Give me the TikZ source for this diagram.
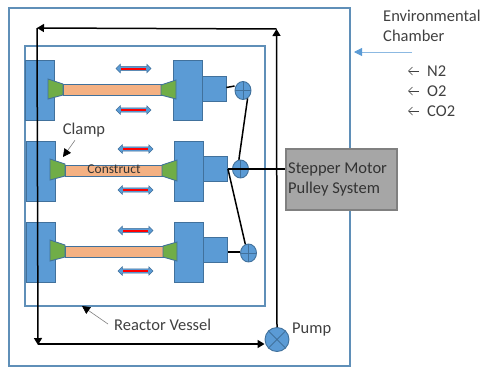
\documentclass[tikz,border=0pt]{standalone}
\usepackage{fontspec}
\setmainfont{Carlito}
\usetikzlibrary{arrows.meta,shapes.geometric,shapes.arrows}
\definecolor{partblue}{HTML}{5B9BD5}
\definecolor{partedge}{HTML}{41719C}
\definecolor{wallblue}{HTML}{5F8FB8}
\definecolor{constructfill}{HTML}{F4B183}
\definecolor{clampfill}{HTML}{70AD47}
\definecolor{labelgray}{HTML}{404040}
\tikzset{
  wall/.style={draw=wallblue,line width=1.2pt,inner sep=0pt},
  part/.style={draw=partedge,fill=partblue,line width=0.9pt,inner sep=0pt},
  construct/.style={draw=partedge,fill=constructfill,line width=0.9pt,inner sep=0pt,minimum width=98pt,minimum height=11pt},
  clamp/.style={draw=partedge,fill=clampfill,line width=0.9pt},
  pulley/.style={part,ellipse,minimum width=16pt,minimum height=18pt},
  pump/.style={part,circle,minimum size=24pt},
  motion/.style={shape=double arrow,draw=partedge,fill=partblue,line width=0.5pt,inner xsep=0pt,inner ysep=1.8pt,
    minimum height=35pt,minimum width=8.5pt,double arrow head extend=2.2pt,
    path picture={\draw[red,line width=2pt,shorten <=5pt,shorten >=5pt]
      (path picture bounding box.west) -- (path picture bounding box.east);}},
  belt/.style={draw=black,line width=1.5pt},
  flow/.style={belt,-{Triangle[length=7pt,width=8pt]}},
  note/.style={text=labelgray,font=\fontsize{16.5}{19}\selectfont,inner sep=0pt},
  pointer/.style={draw=gray,line width=0.6pt,-{Triangle[length=8pt,width=8pt,color=black]}}
}
\begin{document}
\begin{tikzpicture}[x=1pt,y=-1pt]
  \useasboundingbox (0,0) rectangle (484,367);
  \node[wall,minimum width=341pt,minimum height=358pt] (chamber) at (179.5,187) {};
  \node[wall,minimum width=240pt,minimum height=260pt] (vessel) at (145,176) {};

  \node[part,minimum width=29pt,minimum height=60pt] (lefta) at (39.5,90) {};
  \node[part,minimum width=29pt,minimum height=60pt] (leftb) at (40.5,171) {};
  \node[part,minimum width=29pt,minimum height=60pt] (leftc) at (40.5,252) {};
  \node[part,minimum width=29pt,minimum height=60pt] (righta) at (187.5,90) {};
  \node[part,minimum width=29pt,minimum height=60pt] (rightb) at (189,171) {};
  \node[part,minimum width=29pt,minimum height=60pt] (rightc) at (189,252) {};
  \node[part,minimum width=24pt,minimum height=25pt] (drivea) at (214,89) {};
  \node[part,minimum width=24pt,minimum height=25pt] (driveb) at (215.5,169) {};
  \node[part,minimum width=24pt,minimum height=25pt] (drivec) at (215.5,250) {};

  \node[construct] (constructa) at (112,90) {};
  \node[construct] (constructb) at (114,170.5) {};
  \node[construct] (constructc) at (114,251.5) {};

  \draw[clamp] (48,79) -- (63,84) -- (63,95) -- (48,99) -- cycle;
  \draw[clamp] (50,159) -- (65,164) -- (65,176) -- (50,180) -- cycle;
  \draw[clamp] (50,240) -- (65,245) -- (65,257) -- (50,261) -- cycle;
  \draw[clamp] (176,80) -- (161,85) -- (161,95) -- (176,99) -- cycle;
  \draw[clamp] (177,160) -- (162,165) -- (162,176) -- (177,181) -- cycle;
  \draw[clamp] (177,242) -- (163,246) -- (163,257) -- (177,261) -- cycle;

  \node[motion] (motiona) at (133.5,68.5) {};
  \node[motion] (motionb) at (133.5,110) {};
  \node[motion] (motionc) at (135.5,149) {};
  \node[motion] (motiond) at (135.5,190) {};
  \node[motion] (motione) at (135.5,230.5) {};
  \node[motion] (motionf) at (135.5,271) {};

  \node[pulley] (pulleya) at (243,90.5) {};
  \node[pulley] (pulleyb) at (240.5,169) {};
  \node[pulley] (pulleyc) at (248.5,253) {};
  \draw[partedge,line width=0.7pt] (pulleya.north) -- (pulleya.south) (pulleya.west) -- (pulleya.east);
  \draw[partedge,line width=0.7pt] (pulleyb.north) -- (pulleyb.south) (pulleyb.west) -- (pulleyb.east);
  \draw[partedge,line width=0.7pt] (pulleyc.north) -- (pulleyc.south) (pulleyc.west) -- (pulleyc.east);

  \node[draw=gray,fill=black!35,line width=1.2pt,minimum width=111pt,minimum height=61pt,inner sep=0pt] (motor) at (341.5,179.5) {};
  \node[note,anchor=west,text=black!80,align=left] (motortext) at (288,179.5) {Stepper Motor\\[1.5pt]Pulley System};

  \node[pump] (pumpunit) at (277,339.5) {};
  \draw[partedge,line width=0.8pt] (pumpunit.45) -- (pumpunit.225) (pumpunit.135) -- (pumpunit.315);

  \coordinate (topleft) at (37,28);
  \coordinate (topright) at (276.5,29);
  \coordinate (bottomleft) at (38,345);
  \draw[flow] (topright) -- (topleft);
  \draw[flow] (pumpunit.north) -- (topright);
  \draw[flow] (topleft) -- (bottomleft);
  \draw[flow] (bottomleft |- 0,344) -- (pumpunit.west |- 0,344);

  \draw[belt] (drivea.east |- 0,87.5) -- (pulleya.west |- 0,86);
  \draw[belt] (drivec.east |- 0,252) -- (pulleyc.west |- 0,252);
  \draw[belt] (driveb.east) -- (driveb.east -| motor.west);
  \draw[belt] (pulleya.300) -- (pulleyb.100);
  \draw[belt] (driveb.east) -- (pulleyc.110);

  \node[note] (clamptext) at (84,130) {Clamp};
  \node[note,text=black!80,font=\fontsize{13.5}{16}\selectfont] (constructtext) at (114,169.5) {Construct};
  \node[note,anchor=west] (vesseltext) at (114,325) {Reactor Vessel};
  \node[note,anchor=west] (pumptext) at (292,330) {Pump};
  \node[note,anchor=west,align=left] (chambertext) at (383,26) {Environmental\\[1.5pt]Chamber};
  \node[note,anchor=west] (ntwo) at (427,71) {N2};
  \node[note,anchor=west] (otwo) at (427,91) {O2};
  \node[note,anchor=west] (cotwo) at (427,111) {CO2};
  \coordinate (clamptip) at (63,157);
  \coordinate (vesseltip) at (82,306);
  \coordinate (chambertail) at (412,52);
  \coordinate (chambertip) at (354,52);
  \draw[pointer] (clamptext.south) ++(-9,3) -- (clamptip);
  \draw[pointer] (vesseltext.west) ++(-6,-1) -- (vesseltip);
  \draw[draw=partblue!70,line width=0.8pt,-{Triangle[length=8pt,width=8pt,color=partblue]}] (chambertail) -- (chambertip);
  \draw[labelgray,line width=0.7pt,-{Straight Barb[length=4pt,width=8pt]}] (ntwo.west) ++(-8,0) -- ++(-11,0);
  \draw[labelgray,line width=0.7pt,-{Straight Barb[length=4pt,width=8pt]}] (otwo.west) ++(-8,0) -- ++(-11,0);
  \draw[labelgray,line width=0.7pt,-{Straight Barb[length=4pt,width=8pt]}] (cotwo.west) ++(-8,0) -- ++(-11,0);
\end{tikzpicture}
\end{document}
